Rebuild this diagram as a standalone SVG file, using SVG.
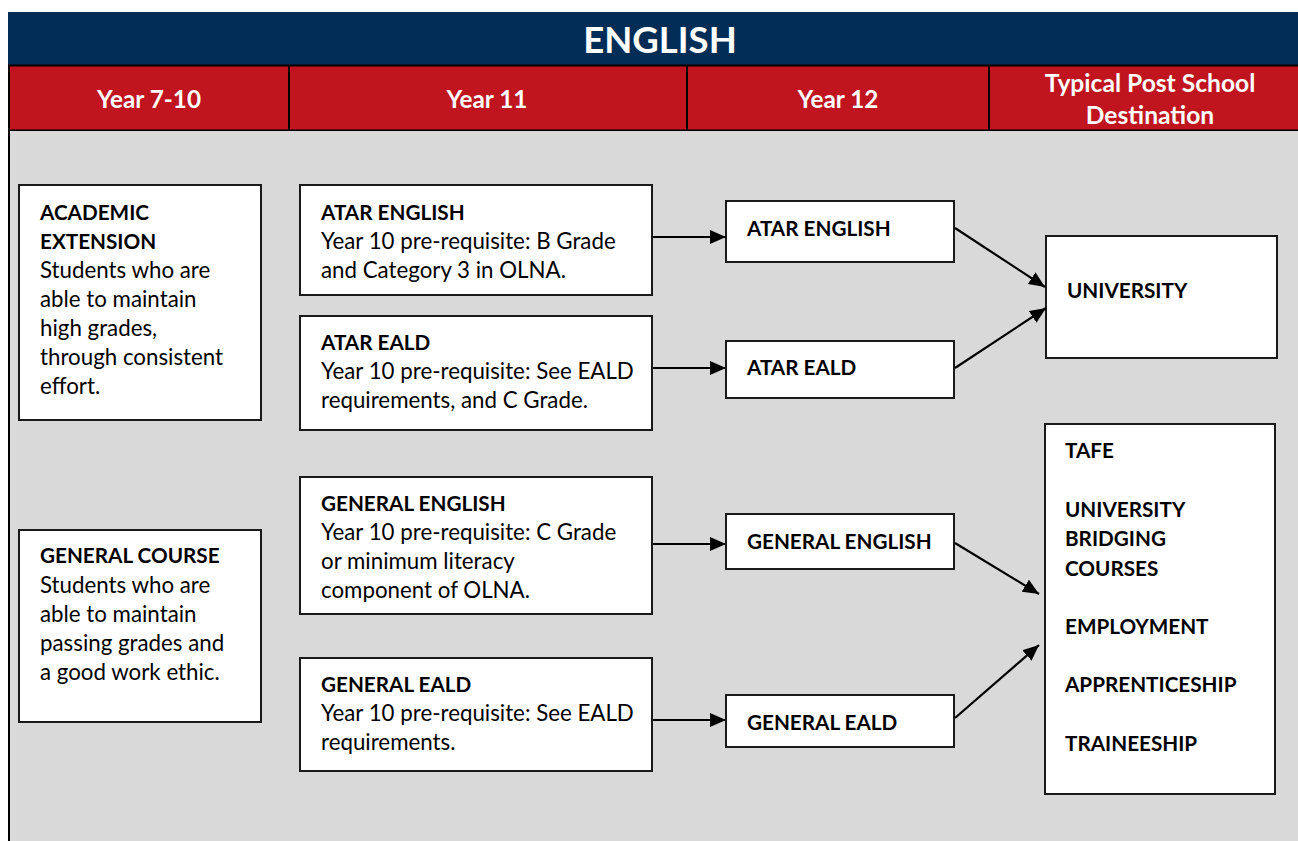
<svg xmlns="http://www.w3.org/2000/svg" width="1298" height="841" viewBox="0 0 1298 841">
<style>
.box{fill:#fff;stroke:#1a1a1a;stroke-width:2}
.t{font-family:Lato,"Liberation Sans",sans-serif;font-size:22.3px;fill:#000}
.b{font-weight:bold;font-size:20.7px}
.h{font-family:Lato,"Liberation Sans",sans-serif;font-weight:bold;fill:#fff;text-anchor:middle}
.c{stroke:#000;stroke-width:2.2;fill:none;marker-end:url(#ah)}
</style>
<defs>
<marker id="ah" markerUnits="userSpaceOnUse" markerWidth="16" markerHeight="14" refX="16" refY="7" orient="auto">
<path d="M0,0 L16,7 L0,14 Z" fill="#000"/>
</marker>
</defs>
<rect x="0" y="0" width="1298" height="841" fill="#fff"/>
<g id="title">
<rect x="8" y="12" width="1290" height="53" fill="#022D56"/>
<text class="h" x="660" y="53" font-size="36.5">ENGLISH</text>
</g>
<g id="header">
<rect x="9" y="66" width="1289" height="64" fill="#C0141F"/>
<line x1="8" y1="65.5" x2="1298" y2="65.5" stroke="#000" stroke-width="2"/>
<line x1="8" y1="130.5" x2="1298" y2="130.5" stroke="#000" stroke-width="2"/>
<line x1="289" y1="65" x2="289" y2="131" stroke="#000" stroke-width="2"/>
<line x1="687" y1="65" x2="687" y2="131" stroke="#000" stroke-width="2"/>
<line x1="989" y1="65" x2="989" y2="131" stroke="#000" stroke-width="2"/>
<text class="h" x="149" y="108" font-size="24.3">Year 7-10</text>
<text class="h" x="487" y="108" font-size="24.3">Year 11</text>
<text class="h" x="838" y="108" font-size="24.3">Year 12</text>
<text class="h" x="1150" y="92" font-size="24.6">Typical Post School</text>
<text class="h" x="1150" y="124" font-size="24.6">Destination</text>
</g>
<rect x="9" y="131" width="1289" height="710" fill="#D9D9D9"/>
<line x1="9" y1="65" x2="9" y2="841" stroke="#000" stroke-width="2"/>

<g id="academic">
<rect class="box" x="19" y="185" width="242" height="235"/>
<text class="t"><tspan class="b" x="40" y="220">ACADEMIC</tspan><tspan class="b" x="40" y="249">EXTENSION</tspan><tspan x="40" y="278">Students who are</tspan><tspan x="40" y="307">able to maintain</tspan><tspan x="40" y="336">high grades,</tspan><tspan x="40" y="365">through consistent</tspan><tspan x="40" y="394">effort.</tspan></text>
</g>
<g id="general-course">
<rect class="box" x="19" y="530" width="242" height="192"/>
<text class="t"><tspan class="b" x="40" y="563">GENERAL COURSE</tspan><tspan x="40" y="593">Students who are</tspan><tspan x="40" y="622">able to maintain</tspan><tspan x="40" y="651">passing grades and</tspan><tspan x="40" y="680">a good work ethic.</tspan></text>
</g>

<g id="y11-atar-english">
<rect class="box" x="300" y="185" width="352" height="110"/>
<text class="t"><tspan class="b" x="321" y="220">ATAR ENGLISH</tspan><tspan x="321" y="249">Year 10 pre-requisite: B Grade</tspan><tspan x="321" y="278">and Category 3 in OLNA.</tspan></text>
</g>
<g id="y11-atar-eald">
<rect class="box" x="300" y="316" width="352" height="114"/>
<text class="t"><tspan class="b" x="321" y="350">ATAR EALD</tspan><tspan x="321" y="379">Year 10 pre-requisite: See EALD</tspan><tspan x="321" y="408">requirements, and C Grade.</tspan></text>
</g>
<g id="y11-general-english">
<rect class="box" x="300" y="477" width="352" height="137"/>
<text class="t"><tspan class="b" x="321" y="511">GENERAL ENGLISH</tspan><tspan x="321" y="540">Year 10 pre-requisite: C Grade</tspan><tspan x="321" y="569">or minimum literacy</tspan><tspan x="321" y="598">component of OLNA.</tspan></text>
</g>
<g id="y11-general-eald">
<rect class="box" x="300" y="658" width="352" height="113"/>
<text class="t"><tspan class="b" x="321" y="692">GENERAL EALD</tspan><tspan x="321" y="721">Year 10 pre-requisite: See EALD</tspan><tspan x="321" y="750">requirements.</tspan></text>
</g>

<g id="y12-atar-english">
<rect class="box" x="726" y="201" width="228" height="61"/>
<text class="t b" x="747" y="236">ATAR ENGLISH</text>
</g>
<g id="y12-atar-eald">
<rect class="box" x="726" y="341" width="228" height="57"/>
<text class="t b" x="747" y="375">ATAR EALD</text>
</g>
<g id="y12-general-english">
<rect class="box" x="726" y="514" width="228" height="55"/>
<text class="t b" x="747" y="549">GENERAL ENGLISH</text>
</g>
<g id="y12-general-eald">
<rect class="box" x="726" y="695" width="228" height="52"/>
<text class="t b" x="747" y="730">GENERAL EALD</text>
</g>

<g id="university">
<rect class="box" x="1046" y="236" width="231" height="122"/>
<text class="t b" x="1067" y="298">UNIVERSITY</text>
</g>
<g id="other-destinations">
<rect class="box" x="1045" y="424" width="230" height="370"/>
<text class="t b"><tspan x="1065" y="458">TAFE</tspan><tspan x="1065" y="517">UNIVERSITY</tspan><tspan x="1065" y="546">BRIDGING</tspan><tspan x="1065" y="576">COURSES</tspan><tspan x="1065" y="634">EMPLOYMENT</tspan><tspan x="1065" y="692">APPRENTICESHIP</tspan><tspan x="1065" y="751">TRAINEESHIP</tspan></text>
</g>

<g id="connectors">
<line class="c" x1="653" y1="237" x2="726" y2="237"/>
<line class="c" x1="653" y1="368" x2="726" y2="368"/>
<line class="c" x1="653" y1="544" x2="726" y2="544"/>
<line class="c" x1="653" y1="720" x2="726" y2="720"/>
<line class="c" x1="955" y1="228" x2="1045" y2="287"/>
<line class="c" x1="955" y1="368" x2="1046" y2="308"/>
<line class="c" x1="955" y1="543" x2="1039" y2="594"/>
<line class="c" x1="955" y1="718" x2="1039" y2="645"/>
</g>
</svg>
